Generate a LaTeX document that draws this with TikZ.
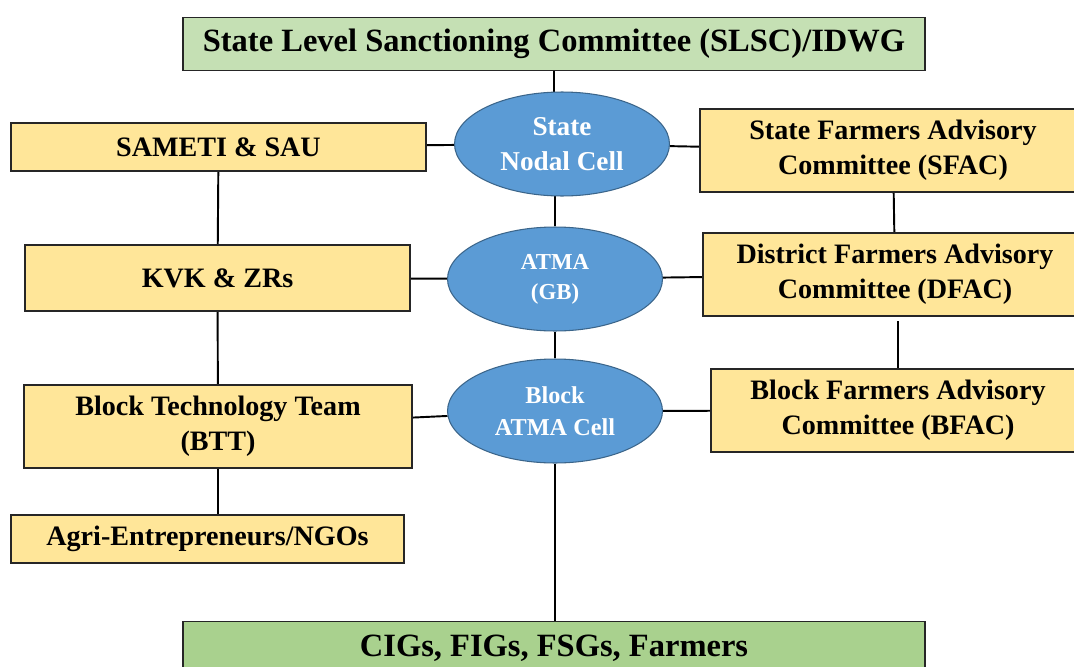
\documentclass[tikz,border=0pt]{standalone}
\usepackage{fontspec}
\setmainfont{Liberation Serif}
\usetikzlibrary{shapes.geometric,backgrounds}

\definecolor{boxyellow}{HTML}{FFE699}
\definecolor{headgreen}{HTML}{C5E0B4}
\definecolor{footgreen}{HTML}{A9D18E}
\definecolor{cellblue}{HTML}{5B9BD5}

\begin{document}
\begin{tikzpicture}[
    x=0.02cm, y=-0.02cm,
    box/.style={draw=black!85, line width=0.8pt, fill=boxyellow, align=center, inner sep=0pt, font=\fontsize{16}{20}\selectfont\bfseries},
    head/.style={box, minimum width=14.84cm, minimum height=1.06cm, font=\fontsize{18.5}{22}\selectfont\bfseries},
    cell/.style={ellipse, draw=cellblue!65!black, line width=0.6pt, fill=cellblue, text=white, align=center, inner sep=0pt, minimum width=4.3cm, minimum height=2.08cm},
    link/.style={line width=1.1pt}
]
\useasboundingbox (0,0) rectangle (1074,666);
\clip (0,0) rectangle (1074,666);

\node[head, fill=headgreen] (slsc) at (554,44) {State Level Sanctioning Committee (SLSC)/IDWG};
\node[head, fill=footgreen] (farmers) at (554,648) {CIGs, FIGs, FSGs, Farmers};

\node[cell, font=\fontsize{15.5}{19.5}\selectfont\bfseries] (snc) at (562,144) {State\\Nodal Cell};
\node[cell, font=\fontsize{13}{17}\selectfont\bfseries] (atma) at (555,279) {ATMA\\(GB)};
\node[cell, font=\fontsize{13.8}{18}\selectfont\bfseries] (bac) at (555,411) {Block\\ATMA Cell};

\node[box, minimum width=8.3cm, minimum height=0.96cm] (sameti) at (218.5,147) {SAMETI \& SAU};
\node[box, minimum width=7.7cm, minimum height=1.32cm] (kvk) at (217.5,278) {KVK \& ZRs};
\node[box, minimum width=7.76cm, minimum height=1.66cm] (btt) at (218,426.5) {Block Technology Team\\(BTT)};
\node[box, minimum width=7.86cm, minimum height=0.96cm] (agri) at (207.5,539) {Agri-Entrepreneurs/NGOs};

\node[box, minimum width=7.72cm, minimum height=1.66cm] (sfac) at (893,150.5) {State Farmers Advisory\\Committee (SFAC)};
\node[box, minimum width=7.68cm, minimum height=1.66cm] (dfac) at (895,274.5) {District Farmers Advisory\\Committee (DFAC)};
\node[box, minimum width=7.48cm, minimum height=1.66cm] (bfac) at (898,410.5) {Block Farmers Advisory\\Committee (BFAC)};

\begin{scope}[on background layer]
\draw[link] (slsc.south) -- (slsc.south |- snc.center);
\draw[link] (atma.center |- snc.center) -- (atma);
\draw[link] (atma) -- (bac);
\draw[link] (bac) -- (bac |- farmers.north);
\draw[link] (sameti) -- (snc);
\draw[link] (snc) -- (sfac);
\draw[link] (kvk) -- (atma);
\draw[link] (atma) -- (dfac);
\draw[link] (btt) -- (bac);
\draw[link] (bac) -- (bfac);
\draw[link] (sameti) -- (kvk);
\draw[link] (kvk) -- (btt);
\draw[link] (btt.south) -- (btt.south |- agri.north);
\draw[link] (sfac) -- (dfac);
\draw[link, shorten >=0.08cm] (bfac.north) -- (bfac.north |- dfac.south);
\end{scope}
\end{tikzpicture}
\end{document}
